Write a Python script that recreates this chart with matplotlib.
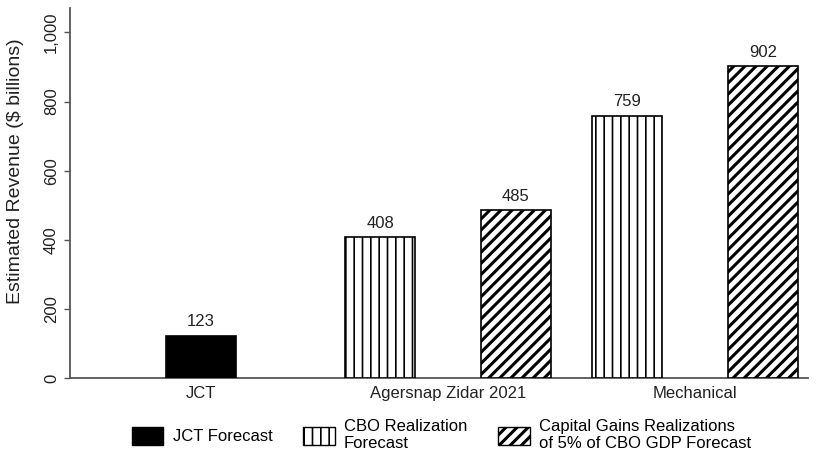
import matplotlib
matplotlib.use("Agg")
import matplotlib.pyplot as plt
from matplotlib.patches import Patch

plt.rcParams['font.family'] = ['Liberation Sans', 'DejaVu Sans']

# data
categories = ["JCT", "Agersnap Zidar 2021", "Mechanical"]
series_names = ["JCT Forecast", "CBO Realization\nForecast",
                "Capital Gains Realizations\nof 5% of CBO GDP Forecast"]
# (category index, series index, value)
bars = [(0, 0, 123), (1, 1, 408), (1, 2, 485), (2, 1, 759), (2, 2, 902)]
yticks = [0, 200, 400, 600, 800, 1000]
ytick_labels = ["0", "200", "400", "600", "800", "1,000"]

# styles per series
styles = [
    dict(facecolor="black", hatch=None, hlw=1.0),
    dict(facecolor="white", hatch="||", hlw=1.2),
    dict(facecolor="white", hatch="///", hlw=2.2),
]
offset = {0: 0.0, 1: -0.275, 2: 0.275}
width = 0.285

fig = plt.figure(figsize=(8.19, 4.55), dpi=100)
ax = fig.add_axes([0.0855, 0.169, 0.901, 0.813])

for cat, ser, val in bars:
    st = styles[ser]
    x = cat + (0.0 if cat == 0 else offset[ser])
    with plt.rc_context({'hatch.linewidth': st['hlw'], 'hatch.color': 'black'}):
        ax.bar(x, val, width=width, facecolor=st['facecolor'], edgecolor="black",
               linewidth=1.2, hatch=st['hatch'], zorder=3)
    ax.text(x, val + 18, str(val), ha="center", va="bottom", fontsize=12, color="#222222")

ax.set_xlim(-0.53, 2.457)
ax.set_ylim(0, 1070)
ax.set_xticks(range(len(categories)))
ax.set_xticklabels(categories, fontsize=12, color="#222222")
ax.tick_params(axis="x", length=0, pad=6)
ax.set_yticks(yticks)
ax.set_yticklabels(ytick_labels, rotation=90, va="center", fontsize=12, color="#222222")
ax.tick_params(axis="y", length=4, width=1, color="#555555", pad=4)
ax.set_ylabel("Estimated Revenue ($ billions)", fontsize=14, color="#222222")
ax.yaxis.set_label_coords(-0.063, 0.56)

for s in ["top", "right"]:
    ax.spines[s].set_visible(False)
for s in ["left", "bottom"]:
    ax.spines[s].set_color("#555555")
    ax.spines[s].set_linewidth(1.3)

handles = []
for i, name in enumerate(series_names):
    st = styles[i]
    handles.append(Patch(facecolor=st['facecolor'], edgecolor="black",
                         hatch=st['hatch'], label=name))
leg = fig.legend(handles=handles, loc="lower center", bbox_to_anchor=(0.539, -0.025), ncol=3,
                 frameon=False, fontsize=12, handlelength=1.9, handleheight=1.3,
                 columnspacing=1.85, handletextpad=0.55, labelspacing=0.2)
# legend patches are new objects, give them the same hatch widths
for p, st in zip(leg.get_patches(), styles):
    if hasattr(p, "set_hatch_linewidth"):
        p.set_hatch_linewidth(st['hlw'])

fig.savefig("out.png", dpi=100)
